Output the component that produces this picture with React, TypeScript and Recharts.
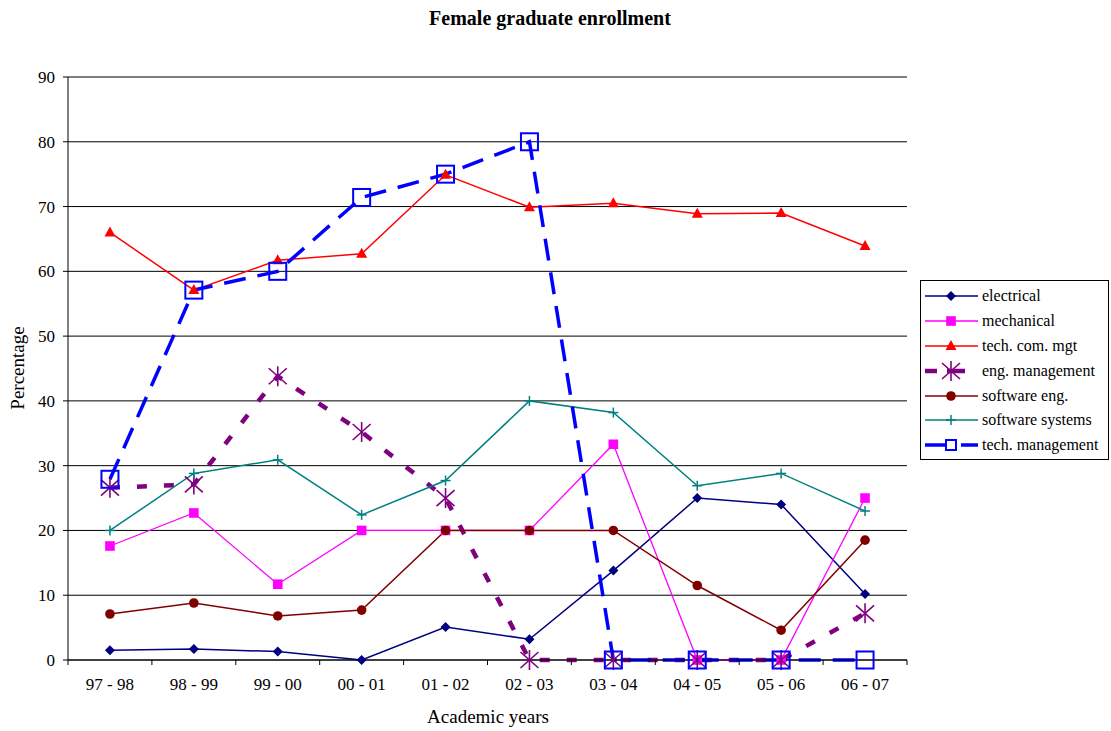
import React from 'react';
import { LineChart, Line, XAxis, YAxis, CartesianGrid } from 'recharts';

const FONT = "'Liberation Serif', 'Times New Roman', serif";

const years = ['97 - 98', '98 - 99', '99 - 00', '00 - 01', '01 - 02', '02 - 03', '03 - 04', '04 - 05', '05 - 06', '06 - 07'];
const yTicks = [0, 10, 20, 30, 40, 50, 60, 70, 80, 90];

const electrical = [1.5, 1.7, 1.3, 0, 5.1, 3.2, 13.8, 25, 24, 10.2];
const mechanical = [17.6, 22.7, 11.7, 20, 20, 20, 33.3, 0, 0, 25];
const techComMgt = [66, 57.1, 61.7, 62.7, 74.9, 69.9, 70.5, 68.9, 69, 63.9];
const engMgmt = [26.6, 27.1, 43.8, 35.2, 25, 0, 0, 0, 0, 7.2];
const softwareEng = [7.1, 8.8, 6.8, 7.7, 20, 20, 20, 11.5, 4.6, 18.5];
const softwareSystems = [20, 28.8, 30.9, 22.4, 27.7, 40, 38.2, 26.9, 28.8, 23];
const techMgmt = [27.9, 57.1, 60, 71.4, 75, 80, 0, 0, 0, 0];

const data = years.map((year, i) => ({
  year,
  electrical: electrical[i],
  mechanical: mechanical[i],
  techComMgt: techComMgt[i],
  engMgmt: engMgmt[i],
  softwareEng: softwareEng[i],
  softwareSystems: softwareSystems[i],
  techMgmt: techMgmt[i],
}));

type Shape = 'diamond' | 'square' | 'triangle' | 'star' | 'circle' | 'plus' | 'hollow';

interface SeriesDef {
  key: string;
  name: string;
  color: string;
  width: number;
  shape: Shape;
  dash?: string;
  legendDash?: string;
}

const series: SeriesDef[] = [
  { key: 'electrical', name: 'electrical', color: '#000080', width: 1.5, shape: 'diamond' },
  { key: 'mechanical', name: 'mechanical', color: '#FF00FF', width: 1.3, shape: 'square' },
  { key: 'techComMgt', name: 'tech. com. mgt', color: '#FF0000', width: 1.5, shape: 'triangle' },
  { key: 'engMgmt', name: 'eng. management', color: '#800080', width: 4.5, shape: 'star', dash: '10 17', legendDash: '12 10 18 40' },
  { key: 'softwareEng', name: 'software eng.', color: '#800000', width: 1.5, shape: 'circle' },
  { key: 'softwareSystems', name: 'software systems', color: '#008080', width: 1.5, shape: 'plus' },
  { key: 'techMgmt', name: 'tech. management', color: '#0000FF', width: 3.5, shape: 'hollow', dash: '22 12', legendDash: '22 14 18 40' },
];

// plot frame
const MARGIN = { top: 77, right: 204, bottom: 31, left: 8 };
const CHART_W = 1111;
const CHART_H = 731;
const Y_AXIS_W = 60;
const PLOT_W = CHART_W - MARGIN.left - MARGIN.right - Y_AXIS_W;
const BAND = PLOT_W / years.length;

function Marker({ shape, color, cx, cy, small }: { shape: Shape; color: string; cx: number; cy: number; small?: boolean }) {
  switch (shape) {
    case 'diamond': {
      const s = 5;
      return <path d={`M${cx},${cy - s}L${cx + s},${cy}L${cx},${cy + s}L${cx - s},${cy}Z`} fill={color} />;
    }
    case 'square':
      return <rect x={cx - 4.8} y={cy - 4.8} width={9.6} height={9.6} fill={color} />;
    case 'triangle':
      return <path d={`M${cx},${cy - 6}L${cx + 5.5},${cy + 4}L${cx - 5.5},${cy + 4}Z`} fill={color} />;
    case 'circle':
      return <circle cx={cx} cy={cy} r={4.8} fill={color} />;
    case 'plus':
      return (
        <g stroke={color} strokeWidth={1.5}>
          <line x1={cx - 5} y1={cy} x2={cx + 5} y2={cy} />
          <line x1={cx} y1={cy - 5} x2={cx} y2={cy + 5} />
        </g>
      );
    case 'star':
      return (
        <g stroke={color} strokeWidth={1.6}>
          <line x1={cx} y1={cy - 10} x2={cx} y2={cy + 10} />
          <line x1={cx - 9} y1={cy - 8} x2={cx + 9} y2={cy + 8} />
          <line x1={cx - 9} y1={cy + 8} x2={cx + 9} y2={cy - 8} />
        </g>
      );
    case 'hollow': {
      const h = small ? 5 : 8.5;
      return <rect x={cx - h} y={cy - h} width={h * 2} height={h * 2} fill="none" stroke={color} strokeWidth={2} />;
    }
  }
  return null;
}

const makeDot = (s: SeriesDef) => (props: any) => {
  const { cx, cy, index } = props;
  if (cx == null || cy == null) return <g key={`${s.key}-${index}`} />;
  return (
    <g key={`${s.key}-${index}`}>
      <Marker shape={s.shape} color={s.color} cx={cx} cy={cy} />
    </g>
  );
};

const YearTick = (props: any) => {
  const { x, y, payload, index } = props;
  const last = index === years.length - 1;
  return (
    <g>
      <line x1={x - BAND / 2} y1={y} x2={x - BAND / 2} y2={y + 5} stroke="#000" />
      {last && <line x1={x + BAND / 2} y1={y} x2={x + BAND / 2} y2={y + 5} stroke="#000" />}
      <text x={x} y={y + 30} textAnchor="middle" fill="#000" style={{ fontSize: 17, fontFamily: FONT }}>
        {payload.value}
      </text>
    </g>
  );
};

const LegendBox = () => (
  <div
    style={{
      position: 'absolute',
      left: 920,
      top: 280,
      width: 187,
      height: 175,
      border: '1px solid #000',
      background: '#fff',
      paddingTop: 3,
      fontFamily: FONT,
      fontSize: 16,
      color: '#000',
    }}
  >
    {series.map((s) => (
      <div key={s.key} style={{ display: 'flex', alignItems: 'center', height: 24.8 }}>
        <svg width={57} height={20} style={{ marginLeft: 4, flex: 'none' }}>
          <line x1={0} y1={10} x2={53} y2={10} stroke={s.color} strokeWidth={s.width} strokeDasharray={s.legendDash} />
          <Marker shape={s.shape} color={s.color} cx={26} cy={10} small />
        </svg>
        <span style={{ whiteSpace: 'nowrap' }}>{s.name}</span>
      </div>
    ))}
  </div>
);

export default function App() {
  return (
    <div style={{ position: 'absolute', left: 0, top: 0, width: CHART_W, height: CHART_H, background: '#fff' }}>
      <LineChart width={CHART_W} height={CHART_H} data={data} margin={MARGIN}>
        <CartesianGrid horizontal vertical={false} stroke="#000" strokeWidth={1} />
        <XAxis
          dataKey="year"
          height={40}
          padding={{ left: BAND / 2, right: BAND / 2 }}
          tickSize={0}
          tickMargin={0}
          tickLine={false}
          axisLine={{ stroke: '#000' }}
          tick={<YearTick />}
          interval={0}
        />
        <YAxis
          width={Y_AXIS_W}
          domain={[0, 90]}
          ticks={yTicks}
          interval={0}
          tickSize={5}
          tickMargin={8}
          axisLine={{ stroke: '#000' }}
          tickLine={{ stroke: '#000' }}
          tick={{ fill: '#000', fontSize: 17, fontFamily: FONT }}
        />
        <YAxis
          yAxisId="frame"
          orientation="right"
          width={0}
          domain={[0, 90]}
          tick={false}
          tickLine={false}
          axisLine={{ stroke: '#808080' }}
        />
        {series.map((s) => (
          <Line
            key={s.key}
            dataKey={s.key}
            name={s.name}
            type="linear"
            stroke={s.color}
            strokeWidth={s.width}
            strokeDasharray={s.dash}
            dot={makeDot(s)}
            activeDot={false}
            isAnimationActive={false}
          />
        ))}
        <text x={550} y={25} textAnchor="middle" fontFamily={FONT} fontSize={20} fontWeight="bold" fill="#000">
          Female graduate enrollment
        </text>
        <text
          x={24}
          y={368}
          textAnchor="middle"
          fontFamily={FONT}
          fontSize={19}
          fill="#000"
          transform="rotate(-90, 24, 368)"
        >
          Percentage
        </text>
        <text x={488} y={723} textAnchor="middle" fontFamily={FONT} fontSize={19} fill="#000">
          Academic years
        </text>
      </LineChart>
      <LegendBox />
    </div>
  );
}
